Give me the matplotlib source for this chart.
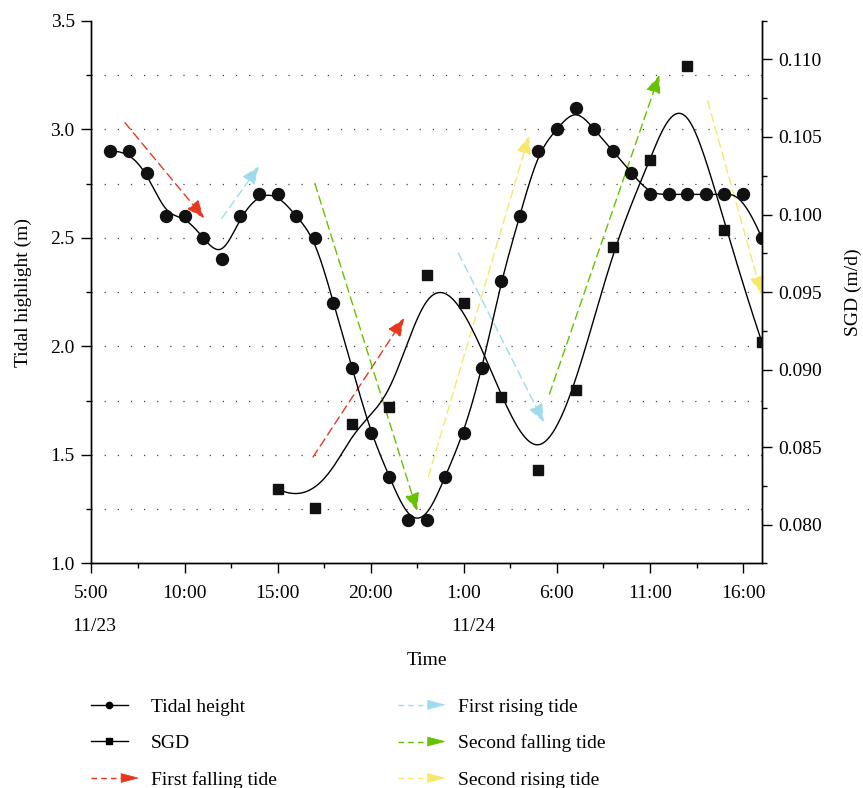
import numpy as np
import matplotlib
matplotlib.use("Agg")
import matplotlib.pyplot as plt
from matplotlib.lines import Line2D
from matplotlib.patches import Polygon
from matplotlib.legend_handler import HandlerBase
from matplotlib.ticker import MultipleLocator, FuncFormatter, FormatStrFormatter

# Time in hours counted from 11/23 0:00
tide_hours = np.arange(6, 42)
tide_height = [2.9, 2.9, 2.8, 2.6, 2.6, 2.5, 2.4, 2.6, 2.7, 2.7, 2.6, 2.5,
               2.2, 1.9, 1.6, 1.4, 1.2, 1.2, 1.4, 1.6, 1.9, 2.3, 2.6, 2.9,
               3.0, 3.1, 3.0, 2.9, 2.8, 2.7, 2.7, 2.7, 2.7, 2.7, 2.7, 2.5]

sgd_hours = np.arange(15, 42, 2)
sgd_value = [0.0823, 0.0811, 0.0865, 0.0876, 0.0961, 0.0943, 0.0882,
             0.0835, 0.0887, 0.0979, 0.1035, 0.1096, 0.0990, 0.0918]

# tide phase arrows (hours, tidal height)
arrow_names = ["First falling tide", "First rising tide",
               "Second falling tide", "Second rising tide"]
arrow_colors = ["#e5381e", "#9edcec", "#66c200", "#f5e86a"]
arrow_kind = [0, 0, 1, 1, 2, 2, 3, 3]
arrow_t0 = [6.8, 16.9, 12.0, 24.7, 17.0, 29.6, 23.1, 38.1]
arrow_h0 = [3.03, 1.49, 2.59, 2.43, 2.75, 1.78, 1.40, 3.13]
arrow_t1 = [11.05, 21.8, 14.0, 29.3, 22.5, 35.5, 28.5, 41.0]
arrow_h1 = [2.59, 2.13, 2.83, 1.65, 1.24, 3.25, 2.97, 2.24]

date_labels = ["11/23", "11/24"]
date_hours = [5.15, 25.5]


def bspline(xs, ys, n=600, k=3):
    """Clamped cubic B-spline using the points as control points"""
    P = np.column_stack([xs, ys]).astype(float)
    m = len(P)
    knots = np.concatenate([np.zeros(k), np.linspace(0, 1, m - k + 1), np.ones(k)])
    t = np.linspace(0, 1, n)
    B = np.zeros((n, len(knots) - 1))
    for i in range(len(knots) - 1):
        B[:, i] = (knots[i] <= t) & (t < knots[i + 1])
    B[t >= 1, m - 1] = 1
    for d in range(1, k + 1):
        Bn = np.zeros((n, len(knots) - 1 - d))
        for i in range(len(knots) - 1 - d):
            left = knots[i + d] - knots[i]
            right = knots[i + d + 1] - knots[i + 1]
            term = np.zeros(n)
            if left > 0:
                term += (t - knots[i]) / left * B[:, i]
            if right > 0:
                term += (knots[i + d + 1] - t) / right * B[:, i + 1]
            Bn[:, i] = term
        B = Bn
    curve = B @ P
    return curve[:, 0], curve[:, 1]


class ArrowHandler(HandlerBase):
    def create_artists(self, legend, orig_handle, xdescent, ydescent,
                       width, height, fontsize, trans):
        c = orig_handle.get_color()
        y = height / 2 - ydescent
        x0 = -xdescent
        line = Line2D([x0, x0 + width * 0.7], [y, y], color=c, lw=1.0,
                      linestyle=(0, (4, 3)))
        head = Polygon([[x0 + width * 0.64, y + 3.2], [x0 + width, y],
                        [x0 + width * 0.64, y - 3.2]], closed=True,
                       facecolor=c, edgecolor=c, lw=0.5)
        line.set_transform(trans)
        head.set_transform(trans)
        return [line, head]


class ShortLineHandler(HandlerBase):
    # line handle drawn a bit shorter than the arrow handles
    def create_artists(self, legend, orig_handle, xdescent, ydescent,
                       width, height, fontsize, trans):
        y = height / 2 - ydescent
        x0 = -xdescent
        w = width * 0.78
        line = Line2D([x0, x0 + w], [y, y], color="black", lw=1.0)
        mark = Line2D([x0 + w / 2], [y], color="black",
                      marker=orig_handle.get_marker(),
                      markersize=orig_handle.get_markersize(), linestyle="none")
        line.set_transform(trans)
        mark.set_transform(trans)
        return [line, mark]


plt.rcParams['font.family'] = ['Liberation Serif', 'DejaVu Serif']
plt.rcParams['font.size'] = 14

fig = plt.figure(figsize=(8.63, 7.88), dpi=100)
ax = fig.add_axes([0.106, 0.2851, 0.7766, 0.6886])
ax2 = ax.twinx()

# dotted horizontal guide lines
grid_levels = np.arange(1.25, 3.4, 0.25)
ax.hlines(grid_levels, 0, 1, transform=ax.get_yaxis_transform(),
          colors="#444444", linewidth=0.9, linestyles=(0, (1, 9.5)), zorder=0)

# Tidal height
tx, ty = bspline(tide_hours, tide_height)
ax.plot(tx, ty, color="black", lw=1.0, zorder=3)
ax.plot(tide_hours, tide_height, "o", color="#111111", markersize=8.6, zorder=4)

# Arrows
for i in range(len(arrow_t0)):
    c = arrow_colors[arrow_kind[i]]
    ax.annotate("", xy=(arrow_t1[i], arrow_h1[i]), xytext=(arrow_t0[i], arrow_h0[i]),
                arrowprops=dict(arrowstyle="-|>,head_length=0.55,head_width=0.22",
                                color=c, lw=1.0, linestyle=(0, (6, 3.5)),
                                shrinkA=0, shrinkB=0, mutation_scale=20),
                zorder=2)

# SGD
sx, sy = bspline(sgd_hours, sgd_value)
ax2.plot(sx, sy, color="black", lw=1.0, zorder=3)
ax2.plot(sgd_hours, sgd_value, "s", color="#111111", markersize=7, zorder=4)

# axes setup
ax.set_xlim(5, 41)
ax.set_ylim(1.0, 3.5)
ax2.set_ylim(0.0775, 0.1125)

ax.xaxis.set_major_locator(MultipleLocator(5))
ax.xaxis.set_minor_locator(MultipleLocator(2.5))
ax.xaxis.set_major_formatter(FuncFormatter(lambda v, p: "%d:00" % (int(round(v)) % 24)))
ax.yaxis.set_major_locator(MultipleLocator(0.5))
ax.yaxis.set_minor_locator(MultipleLocator(0.25))
ax.yaxis.set_major_formatter(FormatStrFormatter("%.1f"))
ax2.yaxis.set_major_locator(MultipleLocator(0.005))
ax2.yaxis.set_minor_locator(MultipleLocator(0.0025))
ax2.yaxis.set_major_formatter(FormatStrFormatter("%.3f"))

for a in (ax, ax2):
    a.spines["top"].set_visible(False)
    for s in a.spines.values():
        s.set_linewidth(1.0)
    a.tick_params(which="major", length=7, width=1.0, direction="out")
    a.tick_params(which="minor", length=3.5, width=1.0, direction="out")
ax.tick_params(axis="x", which="major", pad=8.5)
ax.tick_params(axis="y", which="major", pad=5)
ax2.tick_params(axis="y", which="major", pad=5)

for lab, h in zip(date_labels, date_hours):
    ax.text(h, -0.117, lab, transform=ax.get_xaxis_transform(),
            ha="center", va="center")

ax.set_xlabel("Time")
ax.xaxis.set_label_coords(0.5, -0.164)
ax.set_ylabel("Tidal highlight (m)", labelpad=13)
ax2.set_ylabel("SGD (m/d)", labelpad=16)

# Legend
h_tide = Line2D([], [], color="black", lw=1.0, marker="o", markersize=4.5)
h_sgd = Line2D([], [], color="black", lw=1.0, marker="s", markersize=4)
arrow_handles = [Line2D([], [], color=c) for c in arrow_colors]
handles = [h_tide, h_sgd, arrow_handles[0], arrow_handles[1],
           arrow_handles[2], arrow_handles[3]]
labels = ["Tidal height", "SGD", arrow_names[0], arrow_names[1],
          arrow_names[2], arrow_names[3]]
hmap = {h: ArrowHandler() for h in arrow_handles}
hmap[h_tide] = ShortLineHandler()
hmap[h_sgd] = ShortLineHandler()
fig.legend(handles, labels, handler_map=hmap, ncol=2, frameon=False,
           loc="upper left", bbox_to_anchor=(91 / 863, 1 - 698 / 788),
           handlelength=2.42, handletextpad=0.67, labelspacing=0.97,
           columnspacing=6.2, borderpad=0, borderaxespad=0, fontsize=14)

fig.savefig("out.png", dpi=100)
